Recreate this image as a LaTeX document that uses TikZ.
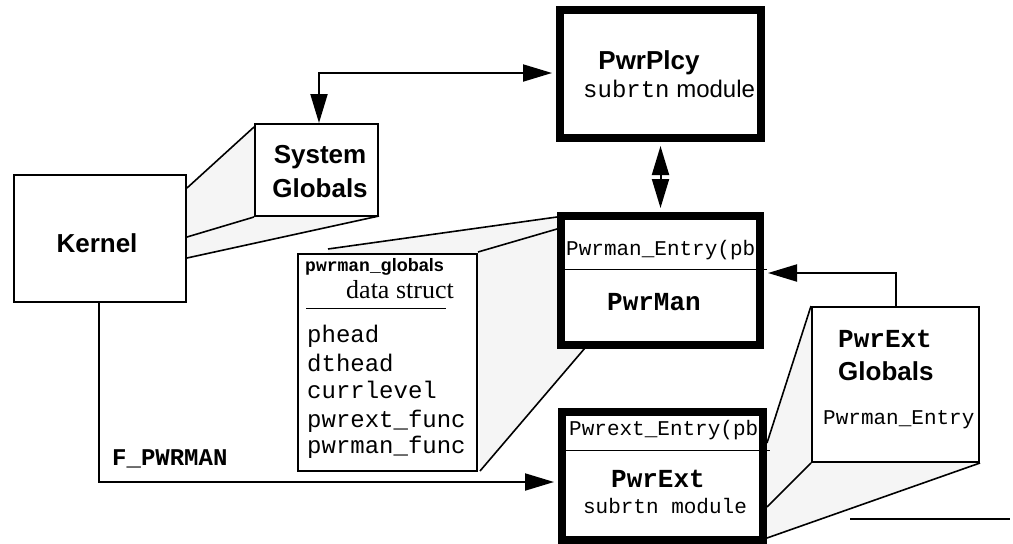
\documentclass[tikz,border=0pt]{standalone}
\usepackage{fontspec}
\setmainfont{Liberation Sans}
\newfontfamily\hv{Liberation Sans}
\newfontfamily\cour{Liberation Mono}
\newfontfamily\tms{Liberation Serif}
\usetikzlibrary{arrows.meta}
\definecolor{extfill}{gray}{0.96}
\tikzset{
  thinbox/.style={draw=black, line width=2pt, fill=white, inner sep=0pt},
  thickbox/.style={draw=black, line width=8pt, fill=white, inner sep=0pt},
  txt/.style={inner sep=0pt, anchor=base west},
  ctxt/.style={inner sep=0pt, anchor=base},
  conn/.style={line width=2pt},
  tip/.tip={Triangle[length=29pt,width=17pt]},
  extline/.style={line width=1.6pt},
  hvb/.style={font=\hv\bfseries\fontsize{26}{30}\selectfont},
  crb/.style={font=\cour\bfseries\fontsize{26}{30}\selectfont},
}
\begin{document}
\begin{tikzpicture}[x=1pt,y=-1pt]
\useasboundingbox (0,0) rectangle (1013,544);
% extrusion fills
\fill[extfill] (187,188) -- (254,127) -- (254,217) -- (379,216) -- (187,258) -- cycle;
\fill[extfill] (328,249) -- (557,217) -- (557,348) -- (585,348) -- (480,471) -- (478,253) -- (328,253) -- cycle;
\fill[extfill] (811,306) -- (811,463) -- (980,463) -- (767,538) -- (767,443) -- cycle;
% extrusion lines
\draw[extline] (187,188) -- (254,127);
\draw[extline] (187,237) -- (254,217);
\draw[extline] (187,258) -- (379,216);
\draw[extline] (328,249) -- (557,217);
\draw[extline] (478,252) -- (557,229);
\draw[extline] (480,471) -- (585,348);
\draw[extline] (811,306) -- (767,443);
\draw[extline] (811,463) -- (767,507);
\draw[extline] (980,463) -- (767,538);
\draw[conn] (850,519) -- (1010,519);
% boxes
\node[thinbox, minimum width=172pt, minimum height=127pt] (kernel) at (100,238.5) {};
\node[thinbox, minimum width=123pt, minimum height=92pt] (sysglob) at (316.5,170) {};
\node[thickbox, minimum width=201pt, minimum height=128pt] (plcy) at (660.5,74) {};
\node[thickbox, minimum width=199pt, minimum height=129pt] (pman) at (660.5,280.5) {};
\node[thinbox, minimum width=179pt, minimum height=217pt] (pglob) at (387.5,362.5) {};
\node[thickbox, minimum width=201pt, minimum height=128pt] (pext) at (662.5,476) {};
\node[thinbox, minimum width=167pt, minimum height=155pt] (eglob) at (895.5,384.5) {};
% connectors
\coordinate (c1) at (319,73);
\draw[conn, tip-tip] (sysglob.north -| c1) -- (c1) -- ([xshift=-4pt]plcy.west |- c1);
\draw[conn, tip-tip] ([yshift=-4pt]plcy.south) -- ([yshift=4pt]pman.north);
\coordinate (c2) at (896,273);
\draw[conn, -tip] (eglob.north -| c2) -- (c2) -- ([xshift=4pt]pman.east |- c2);
\coordinate (c3) at (99,482);
\draw[conn, -tip] (kernel.south -| c3) -- (c3) -- ([xshift=-4pt]pext.west |- c3);
% texts
\node[ctxt, hvb] (tkernel) at (97,252) {Kernel};
\node[ctxt, hvb] (tsys) at (320,163) {System};
\node[ctxt, hvb] (tsysg) at (320,197) {Globals};
\node[ctxt, hvb] (tplcy) at (649,69) {PwrPlcy};
\node[txt, font=\fontsize{24}{28}\selectfont] (tplcy2) at (583,97) {{\cour subrtn} {\hv module}};
\node[txt, font=\cour\fontsize{21}{25}\selectfont] (tpmentry) at (566,255) {Pwrman\_Entry(pb};
\draw[line width=1pt] (562,269) -- (767,269);
\node[ctxt, crb] (tpman) at (654,310) {PwrMan};
\node[txt, font=\fontsize{18}{22}\selectfont\bfseries] (tpglob) at (305,271) {{\cour pwrman\_}{\hv globals}};
\node[ctxt, font=\tms\fontsize{26}{30}\selectfont] (tds) at (400,298) {data struct};
\draw[line width=1pt] (306,308) -- (446,308);
\begin{scope}[every node/.style={txt, font=\cour\fontsize{24}{28}\selectfont}]
\node (f1) at (307,342) {phead};
\node (f2) at (307,371) {dthead};
\node (f3) at (307,398) {currlevel};
\node (f4) at (307,427) {pwrext\_func};
\node (f5) at (307,453) {pwrman\_func};
\end{scope}
\node[txt, font=\cour\fontsize{21}{25}\selectfont] (tpeentry) at (569,435) {Pwrext\_Entry(pb};
\draw[line width=1pt] (565,450) -- (770,450);
\node[ctxt, crb] (tpext) at (658,487) {PwrExt};
\node[ctxt, font=\cour\fontsize{21}{25}\selectfont] (tpext2) at (665,513) {subrtn module};
\node[txt, crb] (teg1) at (838,347) {PwrExt};
\node[txt, hvb] (teg2) at (838,380) {Globals};
\node[txt, font=\cour\fontsize{21}{25}\selectfont] (teg3) at (823,424) {Pwrman\_Entry};
\node[txt, font=\cour\bfseries\fontsize{24}{28}\selectfont] (tfp) at (112,465) {F\_PWRMAN};
\end{tikzpicture}
\end{document}
